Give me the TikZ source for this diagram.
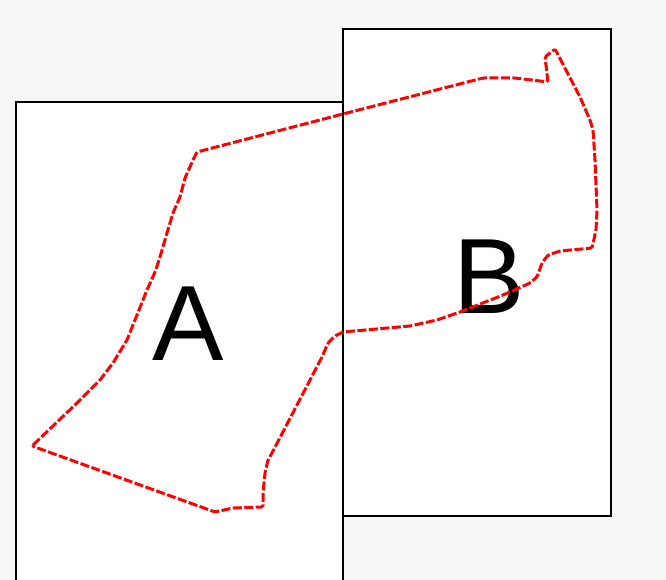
\documentclass[tikz,border=0pt]{standalone}
\usepackage{fontspec}
\setmainfont{Liberation Sans}
\begin{document}
\begin{tikzpicture}[x=1pt,y=-1pt,
  region/.style={draw=black,line width=1.3pt,fill=white},
  boundary/.style={draw=red,line width=3pt,dash pattern=on 9pt off 2.5pt,line join=round,rounded corners=1.5pt},
  biglabel/.style={inner sep=0pt,anchor=base,font=\fontsize{107}{107}\selectfont}]
\fill[fill=black!3] (0,0) rectangle (666,580);
\useasboundingbox (0,0) rectangle (666,580);
\draw[region] (16,102) rectangle (343,590);
\draw[region] (343,29) rectangle (611,516);
\node[biglabel] (la) at (188.5,360) {A};
\node[biglabel] (lb) at (489,313) {B};
\draw[boundary] (32,446) -- (77,403) -- (100,380) -- (113,363) -- (127,340)
  -- (147,290) -- (155,272) -- (160,257) -- (167,233) -- (173,213) -- (180,197)
  -- (185,178) -- (193,160) -- (197,152) -- (343,114) -- (483,78) -- (515,78)
  -- (548,82) -- (545,57) -- (555,49) -- (580,97) -- (590,120) -- (593,130)
  -- (595,160) -- (597,210) -- (596,230) -- (592,248) -- (560,251) -- (548,255)
  -- (542,263) -- (537,277) -- (530,283) -- (503,295) -- (460,312) -- (437,320)
  -- (410,326) -- (343,332) -- (335,336) -- (328,343) -- (322,357) -- (272,453)
  -- (268,460) -- (265,473) -- (263,493) -- (263,507) -- (233,508) -- (215,512)
  -- cycle;
\end{tikzpicture}
\end{document}
